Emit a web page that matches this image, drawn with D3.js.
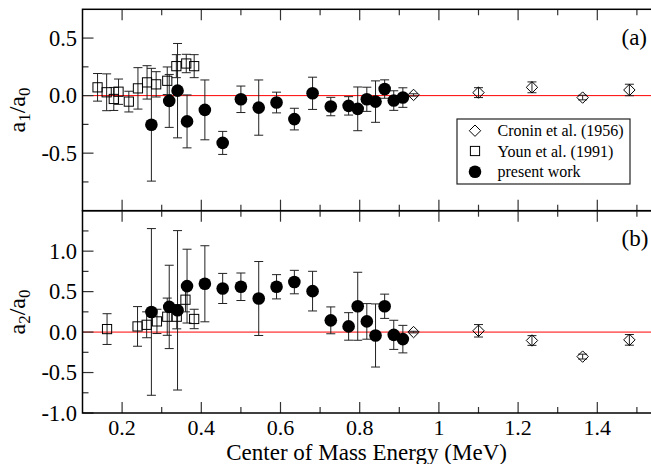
<!DOCTYPE html>
<html>
<head>
<meta charset="utf-8">
<script src="https://cdn.jsdelivr.net/npm/d3@7"></script>
<style>
  body { margin: 0; background: #fff; }
</style>
</head>
<body>
<div id="chart"></div>
<script>
// Dimensions
const width = 651;
const height = 464;
const serif = "'Liberation Serif', 'Tinos', 'Times New Roman', 'Nimbus Roman', 'DejaVu Serif', serif";

// Present work (both panels share the energies)
const presentE = [0.274, 0.319, 0.340, 0.364, 0.409, 0.454, 0.500, 0.545, 0.590, 0.635, 0.681, 0.727, 0.772, 0.795, 0.818, 0.840, 0.863, 0.886, 0.909];
const presentA1 = [-0.253, -0.046, 0.043, -0.224, -0.124, -0.411, -0.032, -0.104, -0.060, -0.204, 0.020, -0.095, -0.089, -0.115, -0.032, -0.052, 0.057, -0.043, -0.017];
const presentA1Err = [0.49, 0.23, 0.41, 0.23, 0.26, 0.10, 0.115, 0.24, 0.09, 0.094, 0.14, 0.08, 0.08, 0.19, 0.105, 0.18, 0.08, 0.085, 0.085];
const presentA2 = [0.249, 0.311, 0.269, 0.568, 0.597, 0.539, 0.560, 0.415, 0.560, 0.618, 0.506, 0.145, 0.070, 0.319, 0.132, -0.042, 0.319, -0.034, -0.087];
const presentA2Err = [1.03, 0.515, 0.985, 0.456, 0.47, 0.186, 0.17, 0.457, 0.15, 0.145, 0.245, 0.166, 0.17, 0.42, 0.22, 0.39, 0.15, 0.18, 0.17];

// Youn et al. (1991)
const younA1E = [0.138, 0.161, 0.179, 0.191, 0.217, 0.240, 0.263, 0.286, 0.314, 0.337, 0.362, 0.382];
const younA1 = [0.072, 0.029, -0.029, 0.034, -0.052, 0.063, 0.115, 0.098, 0.129, 0.256, 0.279, 0.256];
const younA1Err = [0.12, 0.16, 0.10, 0.11, 0.09, 0.18, 0.145, 0.11, 0.12, 0.10, 0.08, 0.10];
const younA2E = [0.162, 0.239, 0.262, 0.288, 0.314, 0.338, 0.360, 0.382];
const younA2 = [0.037, 0.070, 0.090, 0.132, 0.190, 0.190, 0.400, 0.162];
const younA2Err = [0.19, 0.245, 0.16, 0.15, 0.23, 0.15, 0.15, 0.12];

// Cronin et al. (1956)
const croninE = [0.936, 1.100, 1.235, 1.363, 1.481];
const croninA1 = [0.006, 0.026, 0.072, -0.017, 0.049];
const croninA1Err = [0.01, 0.043, 0.047, 0.02, 0.05];
const croninA2 = [0.0, 0.016, -0.104, -0.303, -0.096];
const croninA2Err = [0.01, 0.077, 0.06, 0.03, 0.066];

// Ticks
const xMajor = [0.2, 0.4, 0.6, 0.8, 1.0, 1.2, 1.4];
const xTickLabels = ["0.2", "0.4", "0.6", "0.8", "1", "1.2", "1.4"];
const xMinor = [0.3, 0.5, 0.7, 0.9, 1.1, 1.3, 1.5];
const aMajor = [-0.5, 0, 0.5];
const aMinor = [-0.75, -0.25, 0.25];
const bMajor = [-1.0, -0.5, 0, 0.5, 1.0];
const bMinor = [-0.75, -0.25, 0.25, 0.75, 1.25];

const legendLabels = ["Cronin et al. (1956)", "Youn et al. (1991)", "present work"];

const svg = d3.select("#chart").append("svg")
    .attr("width", width)
    .attr("height", height)
    .attr("font-family", serif);

// Scales
const x = d3.scaleLinear().domain([0.1, 1.55]).range([82.5, 656.7]);
const yA = d3.scaleLinear().domain([-1, 0.75]).range([210.7, 9.3]);
const yB = d3.scaleLinear().domain([-1, 1.5]).range([413, 210.7]);

const zip = (es, vs, errs) => es.map((e, i) => ({ e: e, v: vs[i], err: errs[i] }));

function drawPanel(y, sets, majors, minors) {
    const g = svg.append("g");
    const x0 = x.range()[0], x1 = x.range()[1];
    const yTop = y.range()[1], yBot = y.range()[0];

    // zero line
    g.append("line")
        .attr("x1", x0).attr("x2", x1)
        .attr("y1", y(0)).attr("y2", y(0))
        .style("stroke", "#ff0000")
        .style("stroke-width", 1);

    // x ticks, inward at top and bottom
    const xt = xMajor.map(d => ({ d: d, len: 11 })).concat(xMinor.map(d => ({ d: d, len: 6 })));
    xt.forEach(t => {
        g.append("line").attr("x1", x(t.d)).attr("x2", x(t.d))
            .attr("y1", yBot).attr("y2", yBot - t.len)
            .style("stroke", "#333").style("stroke-width", 1.2);
        g.append("line").attr("x1", x(t.d)).attr("x2", x(t.d))
            .attr("y1", yTop).attr("y2", yTop + t.len)
            .style("stroke", "#333").style("stroke-width", 1.2);
    });

    // y ticks
    const yt = majors.map(d => ({ d: d, len: 11 })).concat(minors.map(d => ({ d: d, len: 6 })));
    g.selectAll("line.ytick")
        .data(yt)
        .enter().append("line")
        .attr("class", "ytick")
        .attr("x1", x0).attr("x2", d => x0 + d.len)
        .attr("y1", d => y(d.d)).attr("y2", d => y(d.d))
        .style("stroke", "#333").style("stroke-width", 1.2);

    g.selectAll("text.ylab")
        .data(majors)
        .enter().append("text")
        .attr("class", "ylab")
        .attr("x", 77)
        .attr("y", d => y(d))
        .attr("dy", "0.35em")
        .style("font-family", serif)
        .style("text-anchor", "end")
        .style("font-size", "22.5px")
        .text(d => d3.format(".1f")(d).replace("−", "-"));

    // frame
    g.append("rect")
        .attr("x", x0).attr("y", yTop)
        .attr("width", x1 - x0).attr("height", yBot - yTop)
        .style("fill", "none")
        .style("stroke", "#000")
        .style("stroke-width", 1.5);

    // error bars
    const all = sets.cronin.concat(sets.youn, sets.present);
    const eb = g.append("g").style("stroke", "#222").style("stroke-width", 1);
    all.forEach(p => {
        const cx = x(p.e);
        eb.append("line").attr("x1", cx).attr("x2", cx).attr("y1", y(p.v - p.err)).attr("y2", y(p.v + p.err));
        eb.append("line").attr("x1", cx - 4.5).attr("x2", cx + 4.5).attr("y1", y(p.v - p.err)).attr("y2", y(p.v - p.err));
        eb.append("line").attr("x1", cx - 4.5).attr("x2", cx + 4.5).attr("y1", y(p.v + p.err)).attr("y2", y(p.v + p.err));
    });

    // Youn squares
    g.selectAll("rect.youn")
        .data(sets.youn)
        .enter().append("rect")
        .attr("class", "youn")
        .attr("x", d => x(d.e) - 4.6).attr("y", d => y(d.v) - 4.6)
        .attr("width", 9.2).attr("height", 9.2)
        .style("fill", "none").style("stroke", "#000").style("stroke-width", 1);

    // Cronin diamonds
    g.selectAll("path.cronin")
        .data(sets.cronin)
        .enter().append("path")
        .attr("class", "cronin")
        .attr("d", d => {
            const cx = x(d.e), cy = y(d.v), r = 5.7;
            return `M${cx},${cy - r}L${cx + r},${cy}L${cx},${cy + r}L${cx - r},${cy}Z`;
        })
        .style("fill", "none").style("stroke", "#000").style("stroke-width", 1);

    // present work circles
    g.selectAll("circle.present")
        .data(sets.present)
        .enter().append("circle")
        .attr("class", "present")
        .attr("cx", d => x(d.e)).attr("cy", d => y(d.v))
        .attr("r", 6.3)
        .style("fill", "#000");
}

drawPanel(yA, {
    cronin: zip(croninE, croninA1, croninA1Err),
    youn: zip(younA1E, younA1, younA1Err),
    present: zip(presentE, presentA1, presentA1Err)
}, aMajor, aMinor);

drawPanel(yB, {
    cronin: zip(croninE, croninA2, croninA2Err),
    youn: zip(younA2E, younA2, younA2Err),
    present: zip(presentE, presentA2, presentA2Err)
}, bMajor, bMinor);

// x tick labels
svg.selectAll("text.xlab")
    .data(xMajor)
    .enter().append("text")
    .attr("class", "xlab")
    .attr("x", d => x(d))
    .attr("y", 434.5)
    .style("font-family", serif)
    .style("text-anchor", "middle")
    .style("font-size", "22px")
    .text((d, i) => xTickLabels[i]);

// axis titles
svg.append("text")
    .attr("x", (x.range()[0] + 656.7) / 2 - 3)
    .attr("y", 459.5)
    .style("font-family", serif)
    .style("text-anchor", "middle")
    .style("font-size", "23px")
    .text("Center of Mass Energy (MeV)");

function yTitle(cy, sub) {
    const t = svg.append("text")
        .attr("transform", `translate(25,${cy}) rotate(-90)`)
        .style("font-family", serif)
        .style("text-anchor", "middle")
        .style("font-size", "24px");
    t.append("tspan").text("a");
    t.append("tspan").attr("dy", 5).style("font-size", "17px").text(sub);
    t.append("tspan").attr("dy", -5).text("/a");
    t.append("tspan").attr("dy", 5).style("font-size", "17px").text("0");
}
yTitle(110, "1");
yTitle(312, "2");

// panel labels
svg.append("text").attr("x", 621.5).attr("y", 45)
    .style("font-family", serif).style("font-size", "23px").text("(a)");
svg.append("text").attr("x", 621.5).attr("y", 246)
    .style("font-family", serif).style("font-size", "23px").text("(b)");

// Legend
const legend = svg.append("g");
legend.append("rect")
    .attr("x", 457).attr("y", 119)
    .attr("width", 173).attr("height", 65)
    .style("fill", "#fff").style("stroke", "#222").style("stroke-width", 1.2);

const rowY = [130.7, 151, 171.7];
legend.append("path")
    .attr("d", `M475,${rowY[0] - 5.7}L480.7,${rowY[0]}L475,${rowY[0] + 5.7}L469.3,${rowY[0]}Z`)
    .style("fill", "none").style("stroke", "#000");
legend.append("rect")
    .attr("x", 475 - 4.6).attr("y", rowY[1] - 4.6)
    .attr("width", 9.2).attr("height", 9.2)
    .style("fill", "none").style("stroke", "#000");
legend.append("circle")
    .attr("cx", 475).attr("cy", rowY[2]).attr("r", 6.3)
    .style("fill", "#000");

legend.selectAll("text")
    .data(legendLabels)
    .enter().append("text")
    .attr("x", 497.5)
    .attr("y", (d, i) => rowY[i] + 5.5)
    .style("font-family", serif)
    .style("font-size", "16px")
    .text(d => d);
</script>
</body>
</html>
